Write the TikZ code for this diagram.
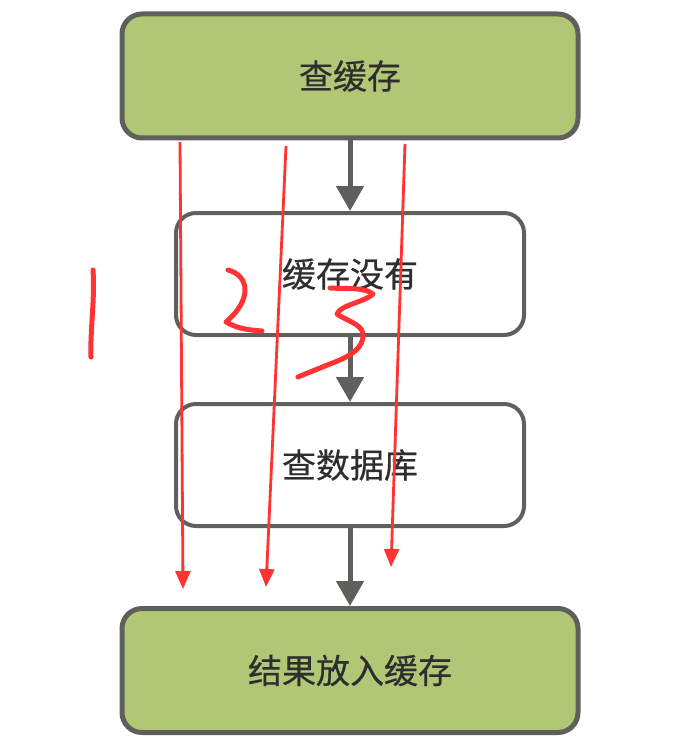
\documentclass[tikz,border=0pt]{standalone}
\usepackage{fontspec}
\newfontfamily\cjk[FakeBold=0.5]{Noto Sans CJK SC}
\usetikzlibrary{arrows.meta}
\definecolor{boxgreen}{HTML}{B2C776}
\definecolor{boxline}{HTML}{5F605C}
\definecolor{txt}{HTML}{2E2E2E}
\definecolor{pen}{HTML}{FF3333}
\tikzset{
  greenbox/.style={draw=boxline, line width=5pt, fill=boxgreen, rounded corners=20pt, minimum width=456pt, minimum height=124pt, font=\cjk\fontsize{34}{38}\selectfont, text=txt},
  whitebox/.style={draw=boxline, line width=4pt, fill=white, rounded corners=20pt, minimum width=348pt, minimum height=122pt, font=\cjk\fontsize{34}{38}\selectfont, text=txt},
  flow/.style={draw=boxline, line width=5pt, -{Triangle[width=27pt,length=25pt]}},
  redline/.style={draw=pen, line width=2.8pt, -{Triangle[width=15pt,length=18pt]}},
  scribble/.style={draw=pen, line width=5pt, line cap=round, line join=round}
}
\begin{document}
\begin{tikzpicture}[x=1pt,y=-1pt]
\useasboundingbox (0,0) rectangle (679,746);
\node[greenbox] (a) at (350,76) {查缓存};
\node[whitebox] (b) at (350,274) {缓存没有};
\node[whitebox] (c) at (350,465) {查数据库};
\node[greenbox] (d) at (350,670.5) {结果放入缓存};
\draw[flow] (a.south) -- (b.north);
\draw[flow] (b.south) -- (c.north);
\draw[flow] (c.south) -- (d.north);
\coordinate (r1s) at (180,142);
\coordinate (r1e) at (183,589);
\coordinate (r2s) at (286,146);
\coordinate (r2e) at (266,587);
\coordinate (r3s) at (405,144);
\coordinate (r3e) at (391,567);
\draw[redline] (r1s) -- (r1e);
\draw[redline] (r2s) -- (r2e);
\draw[redline] (r3s) -- (r3e);
% handwritten 1
\draw[scribble] (93,270) .. controls (95,300) and (90,330) .. (91,357);
% handwritten 2
\draw[scribble] (228,270) .. controls (250,276) and (252,300) .. (226,322) .. controls (240,330) and (252,330) .. (262,331);
% handwritten 3
\draw[scribble] (330,288) .. controls (345,289) and (365,287) .. (373,294) .. controls (365,302) and (340,305) .. (337,314) .. controls (345,320) and (362,324) .. (363,334) .. controls (364,348) and (350,356) .. (335,362) .. controls (320,368) and (305,374) .. (298,377);
\end{tikzpicture}
\end{document}
